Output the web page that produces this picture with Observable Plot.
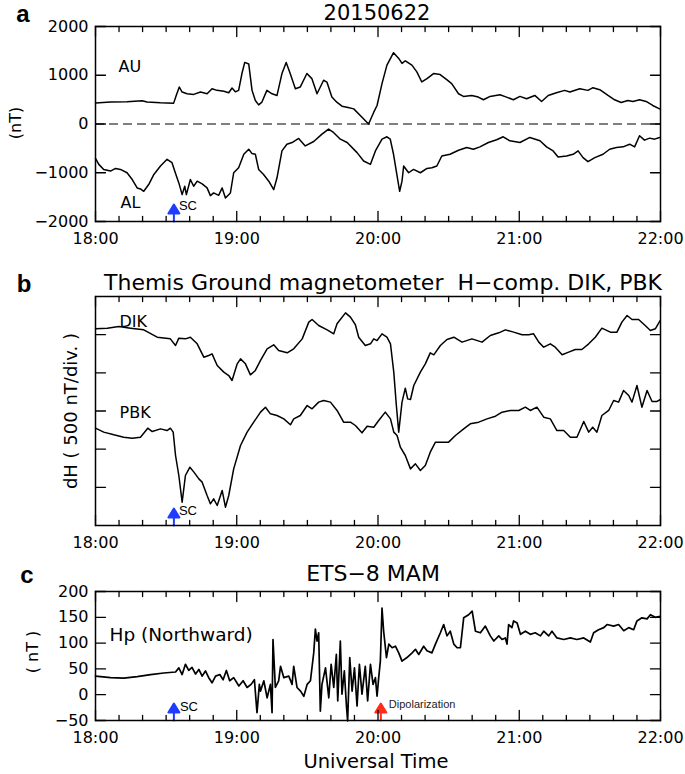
<!DOCTYPE html>
<html><head><meta charset="utf-8">
<script src="https://cdn.jsdelivr.net/npm/d3@7"></script>
<script src="https://cdn.jsdelivr.net/npm/@observablehq/plot@0.6"></script>
<style>
body{margin:0;background:#fff}
#root{position:relative;width:685px;height:774px;overflow:hidden;font-family:"DejaVu Sans",sans-serif;color:#000}
#root svg{position:absolute;left:0}
.lbl{position:absolute;white-space:nowrap;line-height:1;transform:translate(-50%,-50%)}
.rot{transform:translate(-50%,-50%) rotate(-90deg)}
.letter{font-family:"Liberation Sans",Arial,sans-serif;font-weight:bold;font-size:24px}
</style></head><body><div id="root"></div>
<script>
// ---- time axis (minutes after 18:00 UT) ----
const hourTicks = [0, 60, 120, 180, 240];
const hourLabels = ["18:00", "19:00", "20:00", "21:00", "22:00"];
const minorTicks = [10,20,30,40,50,70,80,90,100,110,130,140,150,160,170,190,200,210,220,230];

// ---- panel a: AU / AL (nT) ----
const auTime = [0,6.4,13.4,19.8,21.9,27.6,33.2,34.4,35.6,36.8,38.9,41.7,44.6,47.4,49.5,51.6,54.5,56.6,58,59.4,60.8,62.2,63.4,65.1,66.5,67.9,69.3,70.7,72.8,75,77.1,79.2,81,82.7,84.9,87,89.8,91.9,94.1,96.9,98.3,100.4,102.5,104.7,106.8,109.7,113.2,116,118.2,119.6,121.7,123.8,126.6,128.8,130.2,131.6,134.4,136.5,138.6,140.8,143.6,146.4,149.2,151.3,154.2,156.3,159.8,162.6,164.8,167.6,171.8,174.6,177.5,180.3,183.1,186.6,189.5,192.3,195.8,199.3,201.5,205.7,209.2,211.3,214.2,217.7,220.5,223.3,226.1,228.3,231.1,233.9,236.7,239.6];
const auValue = [430,450,455,476,450,435,428,600,759,655,621,607,655,620,724,690,670,640,738,660,690,1035,1263,1230,690,483,393,450,690,620,586,1035,1263,1035,724,760,1035,931,621,897,860,552,448,366,345,310,138,0,242,380,828,1208,1463,1345,1242,1297,1208,1070,862,931,1035,1014,910,828,621,566,586,552,497,566,600,552,497,566,517,586,462,586,642,690,655,724,690,745,704,586,497,442,483,462,497,462,380,310];
const alTime = [0,1.4,3.5,6.4,8.5,10.6,13.4,15.6,17.7,19.1,20.5,22.6,24.8,27.6,30.4,32.5,33.9,35.4,36.8,37.9,38.6,40.3,41.7,43.2,45.3,47.4,48.8,50.2,52.3,53.8,55.2,57.3,58.7,60.8,63,65.1,66.5,67.9,69.3,71.4,73.6,75.7,77.1,79.2,81.3,83.5,86.3,89.1,92.7,96.2,99,101.1,104,106.9,111.1,113.9,116.8,118.9,121.7,123.8,125.2,126.6,128,129.2,130.2,130.9,133,135.1,138,140.8,142.9,145,147.1,150.6,154.2,157.7,160.5,163.3,166.9,170.4,173.2,176,180.3,184.5,188.8,191.6,194.4,196.5,200.1,202.9,205,207.1,209.2,212.1,215.6,218.4,221.3,224.1,226.9,229,231.1,233.2,235.4,237.5,239.6];
const alValue = [-704,-828,-932,-966,-911,-932,-1000,-1139,-1311,-1332,-1380,-1242,-1035,-862,-725,-794,-1000,-1208,-1449,-1277,-1449,-1139,-1277,-1173,-1228,-1311,-1470,-1414,-1463,-1311,-1518,-1414,-1000,-897,-621,-518,-607,-621,-932,-1035,-1173,-1346,-1104,-552,-414,-380,-297,-449,-359,-207,-104,-173,-311,-380,-587,-759,-828,-552,-311,-262,-311,-621,-1035,-1380,-1173,-862,-1000,-932,-1000,-911,-897,-862,-656,-621,-538,-483,-518,-469,-380,-324,-262,-345,-380,-276,-345,-469,-552,-676,-656,-621,-552,-690,-773,-690,-621,-518,-483,-469,-414,-469,-242,-331,-290,-311,-276];

// ---- panel b: DIK / PBK dH (nT, arbitrary offsets, 500 nT per division) ----
const dikTime = [0,5,9.9,14.9,20.5,26.2,31.8,34,35.4,38.2,40.3,43.2,46,48.1,49.5,51.7,54.5,56.6,58,60.2,61.6,63.7,65.8,67.9,70.1,72.9,75.7,77.8,81.4,84.2,87.8,90.6,92,94.8,98.4,101.2,102.6,106.2,108.3,110.4,111.8,114.6,116.8,118.2,119.6,121.7,123.8,125.3,126.7,127.8,128.8,130.2,131.6,132.6,133.8,135.2,138,140.1,142.2,143.7,146.5,149.3,152.2,155.7,159.9,164.2,167.7,171.3,174.1,177.6,181.2,184,186.1,188.3,190.4,193.2,195.3,198.2,201,203.8,206.6,209.5,212.3,215.1,218.7,221.5,223.6,225.8,227.9,230.7,233.5,235.7,237.8,239.9];
const dikValue = [2577,2585,2607,2585,2563,2467,2445,2358,2454,2445,2467,2380,2205,2227,2249,2096,2009,1965,1900,2118,2183,2118,1974,2031,2162,2315,2367,2293,2262,2315,2445,2664,2699,2620,2563,2511,2642,2786,2729,2630,2467,2358,2380,2445,2423,2511,2467,2380,2009,1572,1223,1616,1799,1659,1651,1834,2009,2118,2262,2236,2358,2437,2467,2402,2445,2402,2489,2524,2563,2533,2498,2498,2511,2402,2336,2380,2336,2236,2271,2306,2306,2380,2467,2585,2533,2533,2664,2751,2699,2699,2620,2555,2577,2686];
const pbkTime = [0,3.5,7.8,12,15.6,19.1,22.2,24.1,27.6,30.4,31.8,33,34,35.4,36.8,38.2,40.1,41.8,43.9,45.3,47.4,48.8,50.2,51.7,53.8,55.2,56.6,58.7,61.6,64.4,67.2,70.1,72.2,74.3,77.1,80,82.8,84.2,87,89.9,92,94.8,96.9,99.8,102.6,105.4,108.3,110.4,113.2,115.4,118.2,120.3,123.1,125.3,126.7,128.1,129.5,131.6,133.8,135.9,138,140.1,142.2,144.4,147.2,150,152.9,156.4,159.2,162.8,166.3,169.9,172.7,176.2,179.8,182.6,184.7,187.5,190.4,193.2,196,198.9,201.7,204.5,207.4,209.5,211.2,213,215.1,218,220.1,222.2,224.3,226.5,227.9,230,232.1,234.3,236.4,238.5,240];
const pbkValue = [1275,1223,1188,1157,1144,1157,1275,1231,1266,1244,1275,1223,917,655,306,655,764,699,611,568,393,284,349,262,459,240,393,742,1048,1223,1354,1485,1550,1463,1441,1397,1319,1397,1441,1572,1529,1616,1638,1616,1507,1354,1354,1310,1214,1301,1288,1376,1485,1397,1223,1179,1026,917,742,808,720,786,961,1092,1092,1092,1179,1266,1332,1354,1397,1432,1485,1507,1507,1550,1507,1550,1419,1397,1244,1244,1157,1157,1363,1223,1288,1223,1441,1507,1638,1616,1769,1703,1616,1834,1550,1769,1625,1625,1651];

// ---- panel c: ETS-8 MAM Hp (nT) ----
const hpTime = [0,6.4,12,17.7,23.4,29,34,35.4,36.8,38.2,39.6,41,42.5,43.9,45.3,46.7,48.1,49.5,51,52.8,54.2,55.6,57,58.7,60.9,62.7,64.4,66.1,67.5,68.6,69.6,70.1,71.5,72.9,74.3,75,75.4,76.4,77.8,78.6,80,82.1,83.5,84.2,85.6,87.1,88.5,89.9,91.3,92.7,93.4,94.1,94.8,95.5,96.2,97.7,99.1,100.1,101.2,102.3,102.9,104,104.7,105.7,106.6,107.1,108,109,110,111.1,112.1,113.2,114.6,115.6,116.8,117.9,118.9,119.6,120.3,121,121.7,122.4,123.6,124.6,126,127.4,128.8,130.2,132.3,134.5,135.9,137.3,139.4,140.8,142.9,144.4,146.5,147.9,149.3,150.7,152.2,153.6,155,156.4,158.5,160,161.4,163.5,165.6,167.7,169.2,171.3,172.7,174.1,174.8,175.5,176.9,177.6,179.1,180.5,182.6,184.7,186.8,189,190.4,192.5,193.9,196,198.9,201.7,204.5,207.4,210.2,211.6,213.7,215.9,217.3,220.1,222.2,224.4,226.5,228.6,230,232.1,234.3,235.7,237.8,239.9];
const hpValue = [36,33,32,35,39,42,44,52,39,59,47,53,40,49,36,46,33,23,36,39,29,47,27,33,17,27,14,20,29,-35,20,7,27,-6,20,-35,107,14,27,55,33,36,20,55,14,7,-3,20,27,81,127,104,120,-32,20,52,-6,59,14,78,-12,104,1,46,-22,-51,72,7,52,-22,59,1,55,-12,59,20,33,-3,33,65,168,123,72,98,91,94,81,65,72,81,88,78,94,85,81,98,120,136,114,123,98,91,91,149,155,162,123,120,133,114,104,114,107,110,98,136,130,143,139,117,123,117,120,114,123,114,123,110,107,110,107,110,102,120,126,130,136,133,136,124,130,126,143,149,147,155,150,152];

// ---- event markers ----
const scTime = [33.3];
const dipTime = [121.2];

const rec = (t, v) => t.map((d, i) => ({t: d, v: v[i]}));
const BLUE = "#1f3cff", RED = "#ff2d1a";
const arrowShape = {draw(ctx, l) {
  const hw = 5.5, hh = 9;
  ctx.moveTo(0, 0); ctx.lineTo(0, -l + hh);
  ctx.moveTo(-hw, -l + hh); ctx.lineTo(0, -l); ctx.lineTo(hw, -l + hh); ctx.closePath();
}};
const tickShape = {draw(ctx, l) { ctx.moveTo(0, 0); ctx.lineTo(0, -l); }};
const fmtY = d => (d < 0 ? "\u2212" : "") + Math.abs(d);

function axes(yTicks, showY) {
  const tk = {anchor: "start", shape: tickShape, stroke: "#000", strokeWidth: 1.3};
  const m = [
    Plot.vector(hourTicks, {...tk, x: d => d, frameAnchor: "bottom", length: 10}),
    Plot.vector(hourTicks, {...tk, x: d => d, frameAnchor: "top", length: 10, rotate: 180}),
    Plot.vector(minorTicks, {...tk, x: d => d, frameAnchor: "bottom", length: 5}),
    Plot.vector(minorTicks, {...tk, x: d => d, frameAnchor: "top", length: 5, rotate: 180}),
    Plot.vector(yTicks, {...tk, y: d => d, frameAnchor: "left", length: 10, rotate: 90}),
    Plot.vector(yTicks, {...tk, y: d => d, frameAnchor: "right", length: 10, rotate: -90}),
    Plot.axisX({anchor: "bottom", ticks: hourTicks, tickSize: 0, tickPadding: 11, fontSize: 16,
      tickFormat: d => hourLabels[hourTicks.indexOf(d)]})
  ];
  if (showY) m.push(Plot.axisY({anchor: "left", ticks: yTicks, tickSize: 0, tickPadding: 7, fontSize: 16, tickFormat: fmtY}));
  m.push(Plot.frame({strokeWidth: 1.5}));
  return m;
}
function arrow(times, color, label, fs, dx, dy) {
  const d = times.map(t => ({t}));
  return [
    Plot.vector(d, {x: "t", frameAnchor: "bottom", length: 17, anchor: "start", shape: arrowShape,
      stroke: color, fill: color, strokeWidth: 2}),
    Plot.text(d, {x: "t", frameAnchor: "bottom", text: () => label, dx, dy, textAnchor: "start",
      fontSize: fs, fontFamily: "Liberation Sans, Arial, sans-serif", fill: label === "SC" ? "#000" : "#222"})
  ];
}
const common = {width: 685, marginLeft: 95, marginRight: 25,
  x: {domain: [0, 240], label: null},
  style: {fontFamily: "DejaVu Sans, sans-serif", fontSize: "16px", background: "transparent", color: "#000"}};
const lineStyle = {x: "t", y: "v", stroke: "#000", strokeWidth: 1.5};

const pa = Plot.plot({...common, height: 260, marginTop: 26, marginBottom: 39,
  y: {domain: [-2000, 2000], label: null},
  marks: [
    Plot.ruleY([0], {stroke: "#555", strokeWidth: 1.5, strokeDasharray: "9,5"}),
    Plot.line(rec(auTime, auValue), lineStyle),
    Plot.line(rec(alTime, alValue), lineStyle),
    Plot.text(["AU"], {frameAnchor: "top-left", dx: 23, dy: 34, textAnchor: "start", fontSize: 16}),
    Plot.text(["AL"], {frameAnchor: "top-left", dx: 25, dy: 170, textAnchor: "start", fontSize: 16}),
    ...arrow(scTime, BLUE, "SC", 13, 5, -12),
    ...axes([-2000, -1000, 0, 1000, 2000], true)
  ]});
const pb = Plot.plot({...common, height: 300, marginTop: 36, marginBottom: 35,
  y: {domain: [0, 3000], label: null, axis: null},
  marks: [
    Plot.line(rec(dikTime, dikValue), lineStyle),
    Plot.line(rec(pbkTime, pbkValue), lineStyle),
    Plot.text(["DIK"], {frameAnchor: "top-left", dx: 24, dy: 19, textAnchor: "start", fontSize: 16}),
    Plot.text(["PBK"], {frameAnchor: "top-left", dx: 24, dy: 110, textAnchor: "start", fontSize: 16}),
    ...arrow(scTime, BLUE, "SC", 13, 5, -11),
    ...axes([500, 1000, 1500, 2000, 2500], false)
  ]});
const pc = Plot.plot({...common, height: 214, marginTop: 31, marginBottom: 54,
  y: {domain: [-50, 200], label: null},
  marks: [
    Plot.line(rec(hpTime, hpValue), {...lineStyle, strokeWidth: 1.7}),
    Plot.text(["Hp (Northward)"], {frameAnchor: "top-left", dx: 14, dy: 36, textAnchor: "start", fontSize: 18.5}),
    ...arrow(scTime, BLUE, "SC", 13, 6, -10),
    ...arrow(dipTime, RED, "Dipolarization", 11, 8, -13),
    ...axes([-50, 0, 50, 100, 150, 200], true)
  ]});

const root = document.getElementById("root");
[[pa, 0], [pb, 260], [pc, 560]].forEach(([svg, top]) => { svg.style.top = top + "px"; root.appendChild(svg); });

function label(text, x, y, size, cls = "", extra = "") {
  const el = document.createElement("div");
  el.className = "lbl " + cls;
  el.textContent = text;
  el.style.left = x + "px"; el.style.top = y + "px";
  if (size) el.style.fontSize = size + "px";
  if (extra) el.style.cssText += extra;
  root.appendChild(el);
}
label("a", 23, 14, 0, "letter");
label("b", 24, 284, 0, "letter");
label("c", 27, 575, 0, "letter");
label("20150622", 377, 13, 21);
label("Themis Ground magnetometer  H\u2212comp. DIK, PBK", 383, 283, 22, "", "white-space:pre");
label("ETS\u22128 MAM", 373, 574, 22);
label("Universal Time", 376, 762, 19.5);
label("(nT)", 16, 123, 16, "rot");
label("dH ( 500 nT/div. )", 71, 411, 18, "rot");
label("( nT )", 33, 652, 16, "rot");
</script></body></html>
